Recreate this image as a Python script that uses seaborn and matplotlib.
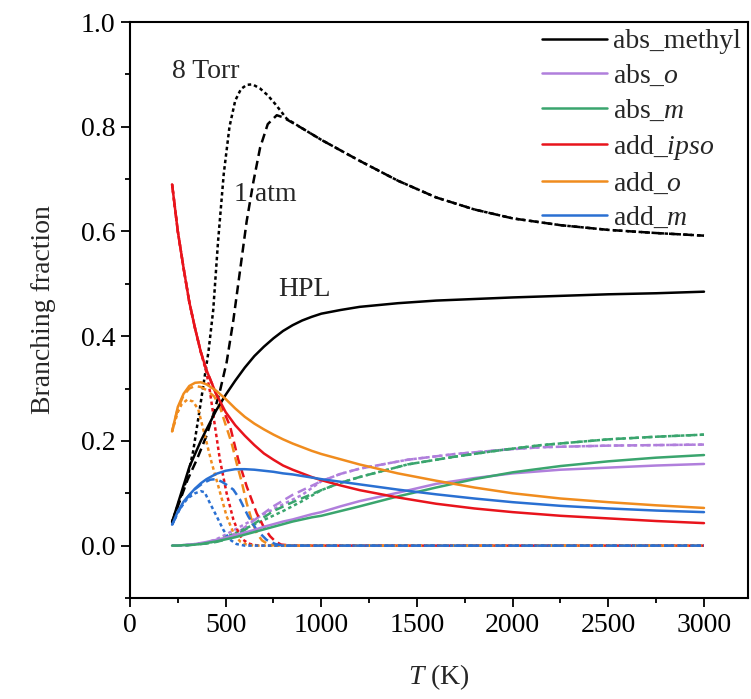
import numpy as np
import pandas as pd
import matplotlib
matplotlib.use("Agg")
import matplotlib.pyplot as plt
from matplotlib.lines import Line2D
import seaborn as sns

# ---------------- data ----------------
T_hpl = [220, 250, 280, 310, 340, 370, 400, 450, 500, 550, 600, 650, 700, 750, 800, 850, 900,
         950, 1000, 1100, 1200, 1400, 1600, 1800, 2000, 2250, 2500, 2750, 3000]
abs_methyl_hpl = [0.045, 0.08, 0.115, 0.15, 0.175, 0.2, 0.222, 0.258, 0.288, 0.315, 0.34, 0.362,
                  0.38, 0.396, 0.41, 0.421, 0.43, 0.437, 0.443, 0.45, 0.456, 0.463, 0.468, 0.471,
                  0.474, 0.477, 0.48, 0.482, 0.485]
abs_o_hpl = [0, 0, 0.001, 0.002, 0.003, 0.005, 0.007, 0.011, 0.015, 0.02, 0.025, 0.03, 0.036,
             0.041, 0.046, 0.05, 0.055, 0.06, 0.064, 0.075, 0.085, 0.101, 0.118, 0.129, 0.138,
             0.145, 0.149, 0.153, 0.156]
abs_m_hpl = [0, 0, 0.001, 0.001, 0.002, 0.003, 0.005, 0.008, 0.012, 0.016, 0.021, 0.026, 0.031,
             0.036, 0.041, 0.046, 0.05, 0.054, 0.057, 0.066, 0.075, 0.094, 0.111, 0.127, 0.14,
             0.152, 0.161, 0.168, 0.173]
add_ipso_hpl = [0.69, 0.6, 0.53, 0.465, 0.415, 0.37, 0.335, 0.29, 0.255, 0.23, 0.21, 0.192,
                0.176, 0.164, 0.153, 0.145, 0.138, 0.131, 0.125, 0.115, 0.106, 0.092, 0.08,
                0.071, 0.064, 0.057, 0.052, 0.047, 0.043]
add_o_hpl = [0.218, 0.265, 0.29, 0.305, 0.311, 0.312, 0.308, 0.296, 0.28, 0.262, 0.246, 0.233,
             0.222, 0.212, 0.203, 0.195, 0.188, 0.181, 0.175, 0.165, 0.155, 0.138, 0.124, 0.111,
             0.1, 0.09, 0.083, 0.077, 0.072]
add_m_hpl = [0.04, 0.065, 0.084, 0.097, 0.109, 0.119, 0.127, 0.137, 0.143, 0.146, 0.146, 0.145,
             0.143, 0.141, 0.138, 0.136, 0.133, 0.13, 0.127, 0.122, 0.117, 0.107, 0.098, 0.09,
             0.083, 0.076, 0.071, 0.067, 0.064]

# 1 atm (dashed)
T_me_1atm = [220, 260, 300, 350, 400, 435, 470, 505, 540, 575, 610, 645, 680, 720, 767, 800,
             900, 1000, 1200, 1400, 1600, 1800, 2000, 2250, 2500, 2750, 3000]
abs_methyl_1atm = [0.045, 0.085, 0.125, 0.165, 0.21, 0.25, 0.295, 0.35, 0.43, 0.525, 0.62, 0.695,
                   0.76, 0.805, 0.822, 0.818, 0.797, 0.775, 0.735, 0.697, 0.665, 0.642, 0.625,
                   0.612, 0.603, 0.597, 0.592]
T_abs_1atm = [220, 300, 400, 450, 505, 575, 662, 749, 850, 1000, 1100, 1200, 1450, 1700, 1950,
              2150, 2500, 2750, 3000]
abs_o_1atm = [0, 0.001, 0.005, 0.008, 0.015, 0.028, 0.052, 0.075, 0.097, 0.123, 0.137, 0.147,
              0.164, 0.175, 0.183, 0.188, 0.191, 0.192, 0.193]
abs_m_1atm = [0, 0.001, 0.004, 0.007, 0.012, 0.024, 0.045, 0.066, 0.083, 0.106, 0.12, 0.131,
              0.155, 0.17, 0.183, 0.192, 0.203, 0.208, 0.212]
T_ipso_1atm = [220, 250, 280, 310, 340, 370, 400, 450, 480, 523, 566, 610, 662, 700, 732, 760,
               790, 850, 1000, 1500, 2000, 2500, 3000]
add_ipso_1atm = [0.69, 0.6, 0.53, 0.465, 0.415, 0.37, 0.335, 0.29, 0.265, 0.228, 0.164, 0.113,
                 0.062, 0.035, 0.018, 0.008, 0.002, 0, 0, 0, 0, 0, 0]
T_o_1atm = [220, 250, 280, 310, 340, 370, 400, 440, 470, 497, 531, 557, 585, 610, 635, 662, 690,
            720, 760, 1000, 1500, 2000, 2500, 3000]
add_o_1atm = [0.218, 0.262, 0.287, 0.3, 0.305, 0.303, 0.297, 0.285, 0.265, 0.234, 0.196, 0.158,
              0.12, 0.081, 0.05, 0.024, 0.01, 0.003, 0, 0, 0, 0, 0, 0]
T_m_1atm = [220, 260, 300, 340, 380, 420, 450, 480, 510, 540, 575, 618, 662, 714, 760, 800, 1000,
            1500, 2000, 2500, 3000]
add_m_1atm = [0.04, 0.07, 0.092, 0.108, 0.119, 0.126, 0.127, 0.122, 0.115, 0.107, 0.088, 0.056,
              0.03, 0.011, 0.003, 0, 0, 0, 0, 0, 0]

# 8 Torr (dotted)
T_me_8torr = [220, 260, 300, 330, 360, 385, 410, 435, 460, 490, 520, 550, 580, 610, 640, 680,
              720, 760, 820, 900, 1000, 1200, 1400, 1600, 1800, 2000, 2250, 2500, 2750, 3000]
abs_methyl_8torr = [0.045, 0.088, 0.13, 0.18, 0.25, 0.31, 0.37, 0.45, 0.58, 0.71, 0.8, 0.85,
                    0.872, 0.88, 0.881, 0.873, 0.86, 0.843, 0.815, 0.797, 0.775, 0.735, 0.697,
                    0.665, 0.642, 0.625, 0.612, 0.603, 0.597, 0.592]
T_abs_8torr = [220, 300, 400, 450, 500, 550, 600, 700, 800, 900, 1000, 1100, 1200, 1450, 1700,
               1950, 2150, 2500, 2750, 3000]
abs_o_8torr = [0, 0.001, 0.006, 0.012, 0.021, 0.031, 0.041, 0.06, 0.079, 0.097, 0.123, 0.137,
               0.147, 0.164, 0.175, 0.183, 0.188, 0.191, 0.192, 0.193]
abs_m_8torr = [0, 0.001, 0.005, 0.009, 0.016, 0.024, 0.032, 0.049, 0.066, 0.085, 0.106, 0.12,
               0.131, 0.155, 0.17, 0.183, 0.192, 0.203, 0.208, 0.212]
T_ipso_8torr = [220, 250, 280, 310, 340, 370, 400, 418, 444, 470, 505, 540, 570, 592, 620, 650,
                700, 1000, 1500, 2000, 2500, 3000]
add_ipso_8torr = [0.69, 0.6, 0.53, 0.465, 0.415, 0.37, 0.33, 0.294, 0.228, 0.164, 0.1, 0.05,
                  0.022, 0.011, 0.004, 0.001, 0, 0, 0, 0, 0, 0]
T_o_8torr = [220, 250, 270, 300, 330, 357, 392, 427, 462, 505, 540, 575, 610, 650, 1000, 1500,
             2000, 2500, 3000]
add_o_8torr = [0.218, 0.255, 0.27, 0.279, 0.275, 0.26, 0.209, 0.158, 0.113, 0.056, 0.025, 0.008,
               0.002, 0, 0, 0, 0, 0, 0]
T_m_8torr = [220, 260, 300, 340, 370, 390, 418, 453, 488, 520, 557, 600, 1000, 1500, 2000, 2500,
             3000]
add_m_8torr = [0.04, 0.07, 0.09, 0.1, 0.104, 0.102, 0.081, 0.056, 0.03, 0.012, 0.003, 0, 0, 0, 0,
               0, 0]

species = ["abs_methyl", "abs_o", "abs_m", "add_ipso", "add_o", "add_m"]
labels = ["abs_methyl", r"abs_$\mathit{o}$", r"abs_$\mathit{m}$",
          r"add_$\mathit{ipso}$", r"add_$\mathit{o}$", r"add_$\mathit{m}$"]
colors = ["#000000", "#b07fdc", "#3aa56e", "#e8141c", "#f08c1e", "#2a70d2"]

hpl = {"abs_methyl": (T_hpl, abs_methyl_hpl), "abs_o": (T_hpl, abs_o_hpl),
       "abs_m": (T_hpl, abs_m_hpl), "add_ipso": (T_hpl, add_ipso_hpl),
       "add_o": (T_hpl, add_o_hpl), "add_m": (T_hpl, add_m_hpl)}
atm = {"abs_methyl": (T_me_1atm, abs_methyl_1atm), "abs_o": (T_abs_1atm, abs_o_1atm),
       "abs_m": (T_abs_1atm, abs_m_1atm), "add_ipso": (T_ipso_1atm, add_ipso_1atm),
       "add_o": (T_o_1atm, add_o_1atm), "add_m": (T_m_1atm, add_m_1atm)}
torr = {"abs_methyl": (T_me_8torr, abs_methyl_8torr), "abs_o": (T_abs_8torr, abs_o_8torr),
        "abs_m": (T_abs_8torr, abs_m_8torr), "add_ipso": (T_ipso_8torr, add_ipso_8torr),
        "add_o": (T_o_8torr, add_o_8torr), "add_m": (T_m_8torr, add_m_8torr)}

# ---------------- style ----------------
sns.set_style("ticks")
plt.rcParams["font.family"] = ["Liberation Serif", "DejaVu Serif"]
plt.rcParams["mathtext.fontset"] = "custom"
plt.rcParams["mathtext.rm"] = "Liberation Serif"
plt.rcParams["mathtext.it"] = "Liberation Serif:italic"
FS = 20

fig = plt.figure(figsize=(7.51, 6.99), dpi=100)
ax = fig.add_axes([0.1731, 0.1445, 0.8229, 0.824])

LW = 1.8
dot_style = (0, (1.4, 1.2))
dash_style = (0, (3.6, 2.0))

# draw dashed first, dotted over it, HPL solid on top
for sp, c in zip(species, colors):
    t, v = atm[sp]
    sns.lineplot(x=t, y=v, ax=ax, color=c, linewidth=LW, linestyle=dash_style,
                 errorbar=None, legend=False)
    t, v = torr[sp]
    sns.lineplot(x=t, y=v, ax=ax, color=c, linewidth=LW, linestyle=dot_style,
                 errorbar=None, legend=False)
for sp, c in zip(species, colors):
    t, v = hpl[sp]
    sns.lineplot(x=t, y=v, ax=ax, color=c, linewidth=LW, linestyle="-",
                 errorbar=None, legend=False)

ax.set_xlim(0, 3230)
ax.set_ylim(-0.1, 1.0)
ax.set_xticks([0, 500, 1000, 1500, 2000, 2500, 3000])
ax.set_xticks(np.arange(250, 3250, 500), minor=True)
ax.set_yticks([0.0, 0.2, 0.4, 0.6, 0.8, 1.0])
ax.set_yticklabels(["0.0", "0.2", "0.4", "0.6", "0.8", "1.0"])
ax.set_yticks([-0.1, 0.1, 0.3, 0.5, 0.7, 0.9], minor=True)
ax.tick_params(axis="both", which="major", direction="out", length=6.5, width=1.3,
               labelsize=FS, color="black", labelcolor="black", pad=4)
ax.tick_params(axis="both", which="minor", direction="out", length=3.5, width=1.3,
               color="black")
for s in ax.spines.values():
    s.set_linewidth(1.5)
    s.set_color("black")

ax.set_xlabel(r"$\mathit{T}$ (K)", fontsize=FS, labelpad=18)
ax.set_ylabel("Branching fraction", fontsize=FS, labelpad=18)

ax.text(220, 0.905, "8 Torr", fontsize=FS, ha="left", va="center")
ax.text(543, 0.67, "1 atm", fontsize=FS, ha="left", va="center")
ax.text(774, 0.489, "HPL", fontsize=FS, ha="left", va="center")

handles = [Line2D([], [], color=c, linewidth=LW) for c in colors]
ax.legend(handles, labels, loc="upper right", bbox_to_anchor=(1.0, 1.0), frameon=False,
          fontsize=FS, handlelength=2.35, handletextpad=0.22, labelspacing=0.33,
          borderaxespad=0.1, borderpad=0.15)

fig.savefig("out.png", dpi=100)
